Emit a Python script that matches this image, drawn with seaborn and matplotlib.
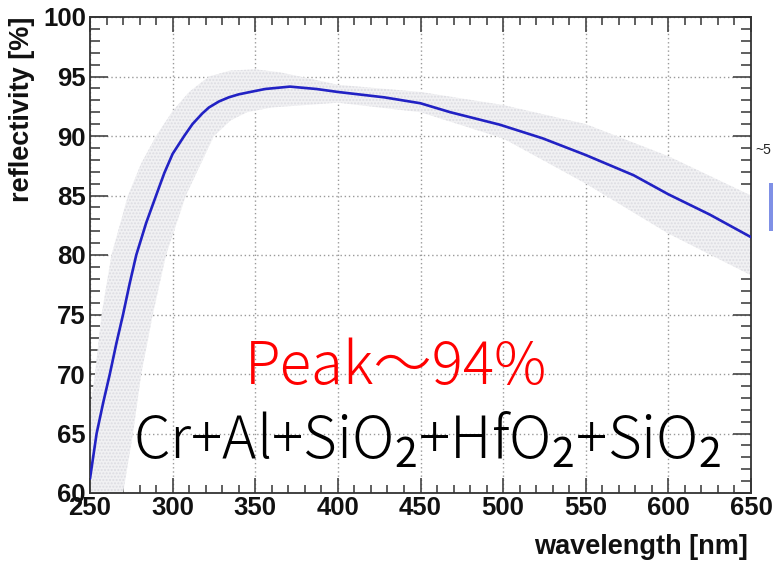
# -*- coding: utf-8 -*-
# imports
import matplotlib
matplotlib.use('Agg')
import matplotlib.pyplot as plt
from matplotlib.patches import Rectangle
from matplotlib.ticker import MultipleLocator
import numpy as np
import pandas as pd
import seaborn as sns

# measured reflectivity curve [nm, %]
wavelength = [250, 254, 258, 262, 266, 270, 274, 278, 284, 290, 295, 300,
              307, 312, 318, 322, 328, 334, 340, 347, 356, 371, 387, 400,
              428, 450, 468, 498, 524, 550, 579, 600, 625, 650]
reflectivity = [61.2, 65.0, 67.6, 70.0, 72.6, 75.0, 77.6, 80.0, 82.7, 85.0,
                86.9, 88.5, 90.0, 91.0, 91.9, 92.4, 92.9, 93.25, 93.5, 93.7,
                93.95, 94.15, 93.95, 93.7, 93.25, 92.75, 92.0, 90.95, 89.8,
                88.4, 86.7, 85.1, 83.4, 81.5]

# uncertainty band edges
band_hi_x = [250, 253, 257, 263, 273, 281, 290, 300, 310, 322, 335, 350,
             365, 387, 400, 450, 500, 550, 600, 650]
band_hi_y = [67.0, 70.0, 75.0, 80.0, 85.0, 87.7, 90.0, 92.1, 93.7, 95.0,
             95.5, 95.6, 95.35, 94.7, 94.3, 93.7, 92.6, 91.0, 88.3, 85.0]
band_lo_x = [250, 270, 276, 281, 288, 296, 308, 325, 335, 345, 360, 400,
             450, 500, 550, 600, 650]
band_lo_y = [55.0, 60.0, 65.0, 70.0, 75.0, 80.0, 85.0, 90.0, 91.3, 92.0,
             92.4, 92.8, 92.0, 89.8, 86.0, 81.8, 78.3]

PEAK_TEXT = 'Peak〜94%'
COATING_TEXT = 'Cr+Al+SiO$_2$+HfO$_2$+SiO$_2$'

sns.set_theme(style='ticks')
plt.rcParams['font.family'] = ['Liberation Sans', 'DejaVu Sans']
plt.rcParams['mathtext.fontset'] = 'custom'
plt.rcParams['mathtext.rm'] = 'Noto Sans CJK JP'
plt.rcParams['mathtext.it'] = 'Noto Sans CJK JP'
plt.rcParams['mathtext.bf'] = 'Noto Sans CJK JP'

fig = plt.figure(figsize=(7.73, 5.63), dpi=100)
ax = fig.add_axes([90 / 773, 70 / 563, 661 / 773, 476 / 563])

# grey hatched band
poly_x = np.concatenate([band_hi_x, band_lo_x[::-1]])
poly_y = np.concatenate([band_hi_y, band_lo_y[::-1]])
ax.fill(poly_x, poly_y, facecolor='#f1f1f3', edgecolor='#dcdce2',
        hatch='.....', linewidth=0, zorder=1)

df = pd.DataFrame({'wavelength': wavelength, 'reflectivity': reflectivity})
sns.lineplot(data=df, x='wavelength', y='reflectivity', ax=ax,
             color='#2222c4', linewidth=1.9, zorder=3)

ax.set_xlim(250, 650)
ax.set_ylim(60, 100)
ax.xaxis.set_major_locator(MultipleLocator(50))
ax.xaxis.set_minor_locator(MultipleLocator(10))
ax.yaxis.set_major_locator(MultipleLocator(5))
ax.yaxis.set_minor_locator(MultipleLocator(1))
ax.grid(True, which='major', color='#9a9a9a', linestyle=(0, (1, 2)),
        linewidth=1.0, zorder=0)

for side in ['left', 'right', 'top', 'bottom']:
    ax.spines[side].set_color('#333333')
    ax.spines[side].set_linewidth(1.3)
ax.tick_params(which='both', direction='in', top=True, right=True,
               color='#444444', width=1.2)
ax.tick_params(axis='y', which='major', length=13, pad=3)
ax.tick_params(axis='y', which='minor', length=7)
ax.tick_params(axis='x', which='major', length=11, pad=2)
ax.tick_params(axis='x', which='minor', length=6)
for lab in ax.get_xticklabels() + ax.get_yticklabels():
    lab.set_fontsize(18.5)
    lab.set_fontweight('bold')
    lab.set_color('#111111')

ax.set_xlabel('wavelength [nm]', fontsize=19.5, fontweight='bold',
              color='#111111', loc='right')
ax.xaxis.set_label_coords(0.995, -0.086)
ax.set_ylabel('reflectivity [%]', fontsize=19.5, fontweight='bold',
              color='#111111', loc='top')
ax.yaxis.set_label_coords(-0.083, 1.0)

ax.text(435, 70.5, PEAK_TEXT, color='#ff0000', fontsize=42,
        family=['Noto Sans CJK JP', 'DejaVu Sans'], fontweight='light',
        ha='center', va='center', zorder=4)
ax.text(454, 64.3, COATING_TEXT, color='black', fontsize=42,
        family=['Noto Sans CJK JP', 'DejaVu Sans'], fontweight='light',
        ha='center', va='center', zorder=4)

# cut-off bits at the right edge
fig.text(755 / 773, 1 - 150 / 563, '~5', fontsize=10, color='#222222',
         ha='left', va='center')
fig.patches.append(Rectangle((769 / 773, 1 - 231 / 563), 4 / 773, 48 / 563,
                             transform=fig.transFigure, facecolor='#7f90e6',
                             edgecolor='none'))

fig.savefig('out.png', dpi=100)
